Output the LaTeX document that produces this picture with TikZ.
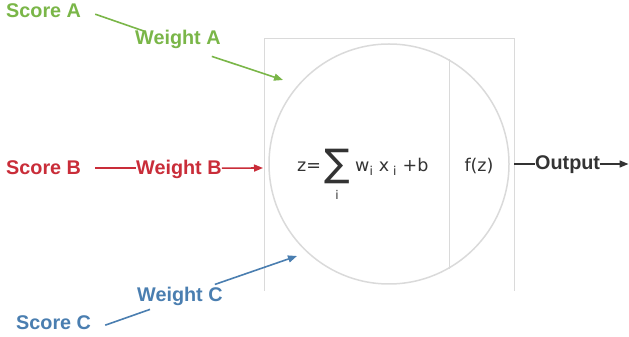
\documentclass[tikz,border=0pt]{standalone}
\usepackage{fontspec}
\setmainfont{Liberation Sans}
\newfontfamily\formulafont{DejaVu Sans}
\usetikzlibrary{arrows.meta}

\definecolor{scoregreen}{HTML}{7AB648}
\definecolor{scorered}{HTML}{C92D39}
\definecolor{scoreblue}{HTML}{4A7EB0}
\definecolor{textgray}{HTML}{333333}
\definecolor{linegray}{HTML}{DADADA}

\begin{document}
\begin{tikzpicture}[x=1pt, y=1pt,
	label/.style={font=\fontsize{19.8}{20}\selectfont\bfseries, inner sep=0pt, anchor=base west},
	formula/.style={font=\formulafont\fontsize{17.5}{18}\selectfont, text=textgray, inner sep=0pt},
	wire/.style={line width=1.6pt},
	arrow/.style={wire, -{Triangle[length=9pt,width=7pt]}}]
	
	\useasboundingbox (0,0) rectangle (629,337);
	
	% ------------------------------------------------------------
	% Positionen
	% ------------------------------------------------------------
	
	\def\xboxleft{264.5}
	\def\xboxright{514}
	\def\yboxbottom{46}
	\def\yboxtop{298}
	
	\coordinate (inA) at (283,257);
	\coordinate (inB) at (263,169);
	\coordinate (inC) at (297,81);
	\coordinate (outStart) at (\xboxright,173);
	\coordinate (outEnd) at (628.5,173);
	
	% ------------------------------------------------------------
	% Neuron
	% ------------------------------------------------------------
	
	\draw[linegray, line width=1pt]
	(\xboxleft,\yboxbottom) -- (\xboxleft,\yboxtop) -- (\xboxright,\yboxtop) -- (\xboxright,\yboxbottom);
	
	\node[circle, draw=linegray, line width=1.5pt, minimum size=240pt, inner sep=0pt] (neuron) at (389,173) {};
	
	\draw[linegray, line width=1.5pt]
	(neuron.60) -- (neuron.-60);
	
	\node[formula, anchor=base west] (zeq) at (297,165) {z=};
	\node[formula, font=\formulafont\fontsize{38}{38}\selectfont] (sigma) at (337,171) {∑};
	\node[formula, font=\formulafont\fontsize{12}{12}\selectfont, anchor=base] (sidx) at (337,137) {i};
	\node[formula, anchor=base west] (sumterm) at (355,165)
	{w\textsubscript{i} x\textsubscript{ i} +b};
	\node[formula, anchor=base] (fz) at (479,165) {f(z)};
	
	% ------------------------------------------------------------
	% Labels
	% ------------------------------------------------------------
	
	\node[label, text=scoregreen] (scoreA) at (6,319) {Score A};
	\node[label, text=scoregreen] (weightA) at (135,292) {Weight A};
	
	\node[label, text=scorered] (scoreB) at (6,162) {Score B};
	\node[label, text=scorered] (weightB) at (136,162) {Weight B};
	
	\node[label, text=scoreblue] (scoreC) at (16,7) {Score C};
	\node[label, text=scoreblue] (weightC) at (137,35) {Weight C};
	
	\node[label, text=textgray] (output) at (535,167) {Output};
	
	% ------------------------------------------------------------
	% Connecting lines
	% ------------------------------------------------------------
	
	\draw[wire, scoregreen]
	([shift={(14,-3)}]scoreA.east) -- ([shift={(10,-1)}]weightA.north west);
	\draw[arrow, scoregreen]
	([shift={(-9,-7)}]weightA.south east) -- (inA);
	
	\draw[wire, scorered]
	([xshift=14]scoreB.east) -- (scoreB.east -| weightB.west);
	\draw[arrow, scorered]
	(scoreB.east -| weightB.east) -- (inB);
	
	\draw[wire, scoreblue]
	([shift={(14,-2)}]scoreC.east) -- ([shift={(13,-3)}]weightC.south west);
	\draw[arrow, scoreblue]
	([shift={(-8,3)}]weightC.north east) -- (inC);
	
	\draw[wire, textgray]
	(outStart) -- (output.west |- outStart);
	\draw[arrow, textgray]
	(output.east |- outStart) -- (outEnd);
\end{tikzpicture}
\end{document}
